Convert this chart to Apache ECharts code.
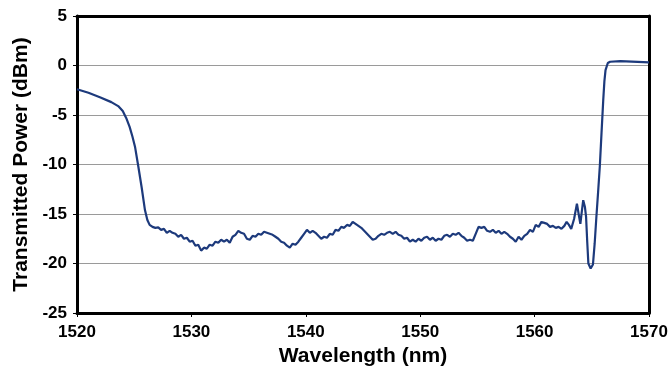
<!DOCTYPE html>
<html>
<head>
<meta charset="utf-8">
<script src="https://cdn.jsdelivr.net/npm/echarts@6/dist/echarts.min.js"></script>
<style>
  html, body { margin: 0; padding: 0; background: #fff; }
  #chart { width: 670px; height: 366px; }
</style>
</head>
<body>
<div id="chart"></div>
<script>
// wavelength (nm)
var wavelength = [
  1520, 1521, 1522, 1523, 1523.6, 1524.0, 1524.3, 1524.6, 1524.85, 1525.07,
  1525.36, 1525.65, 1525.94, 1526.15, 1526.35, 1526.6, 1526.85, 1527.1, 1527.35, 1527.6,
  1527.85, 1528.1, 1528.35, 1528.6, 1528.85, 1529.1, 1529.35, 1529.6, 1529.85, 1530.1,
  1530.35, 1530.6, 1530.85, 1531.1, 1531.35, 1531.6, 1531.85, 1532.1, 1532.35, 1532.6,
  1532.85, 1533.1, 1533.35, 1533.6, 1533.85, 1534.1, 1534.35, 1534.6, 1534.85, 1535.1,
  1535.35, 1535.6, 1535.85, 1536.1, 1536.35, 1536.6, 1536.85, 1537.1, 1537.35, 1537.6,
  1537.85, 1538.1, 1538.35, 1538.6, 1538.85, 1539.1, 1539.35, 1539.6, 1539.85, 1540.1,
  1540.35, 1540.6, 1540.85, 1541.1, 1541.35, 1541.6, 1541.85, 1542.1, 1542.35, 1542.6,
  1542.85, 1543.1, 1543.35, 1543.6, 1543.85, 1544.1, 1544.35, 1544.6, 1544.85, 1545.1,
  1545.35, 1545.6, 1545.85, 1546.1, 1546.35, 1546.6, 1546.85, 1547.1, 1547.35, 1547.6,
  1547.85, 1548.1, 1548.35, 1548.6, 1548.85, 1549.1, 1549.35, 1549.6, 1549.85, 1550.1,
  1550.35, 1550.6, 1550.85, 1551.1, 1551.35, 1551.6, 1551.85, 1552.1, 1552.35, 1552.6,
  1552.85, 1553.1, 1553.35, 1553.6, 1553.85, 1554.1, 1554.35, 1554.6, 1554.85, 1555.1,
  1555.35, 1555.6, 1555.85, 1556.1, 1556.35, 1556.6, 1556.85, 1557.1, 1557.35, 1557.6,
  1557.85, 1558.1, 1558.35, 1558.6, 1558.85, 1559.1, 1559.35, 1559.6, 1559.85, 1560.1,
  1560.35, 1560.6, 1560.85, 1561.1, 1561.35, 1561.6, 1561.85, 1562.1, 1562.35, 1562.6,
  1562.8, 1563.0, 1563.2, 1563.45, 1563.7, 1563.85, 1564.0, 1564.12, 1564.25, 1564.4,
  1564.5, 1564.6, 1564.7, 1564.9, 1565.1, 1565.25, 1565.4, 1565.55, 1565.7, 1565.85,
  1566.0, 1566.1, 1566.2, 1566.4, 1566.6, 1567.5, 1570
];
// transmitted power (dBm)
var power = [
  -2.4, -2.75, -3.2, -3.7, -4.1, -4.6, -5.3, -6.2, -7.2, -8.2,
  -10.2, -12.3, -14.6, -15.6, -16.1, -16.3, -16.4, -16.35, -16.6, -16.5,
  -16.9, -16.7, -16.9, -17.0, -17.3, -17.1, -17.5, -17.4, -17.8, -17.7,
  -18.2, -18.1, -18.7, -18.4, -18.5, -18.1, -18.2, -17.8, -17.9, -17.6,
  -17.8, -17.6, -17.9, -17.3, -17.1, -16.7, -16.9, -17.0, -17.5, -17.6,
  -17.2, -17.3, -17.0, -17.1, -16.8, -16.9, -17.0, -17.1, -17.3, -17.5,
  -17.8, -17.9, -18.2, -18.4, -18.0, -18.1, -17.8, -17.4, -17.0, -16.6,
  -16.9, -16.7, -16.9, -17.2, -17.5, -17.3, -17.4, -17.0, -17.1, -16.6,
  -16.7, -16.3, -16.4, -16.1, -16.2, -15.8, -16.0, -16.2, -16.4, -16.7,
  -17.0, -17.3, -17.6, -17.5, -17.2, -17.0, -17.1, -16.9, -16.8, -17.0,
  -16.8, -17.1, -17.2, -17.5, -17.4, -17.8, -17.6, -17.8, -17.5, -17.7,
  -17.4, -17.3, -17.6, -17.4, -17.7, -17.5, -17.6, -17.2, -17.1, -17.3,
  -17.0, -17.1, -16.9, -17.2, -17.4, -17.7, -17.6, -17.7, -17.0, -16.3,
  -16.4, -16.3, -16.7, -16.8, -16.6, -16.9, -16.7, -17.0, -16.8, -17.0,
  -17.3, -17.5, -17.8, -17.3, -17.6, -17.2, -17.0, -16.6, -16.8, -16.1,
  -16.3, -15.8, -15.9, -16.0, -16.3, -16.2, -16.4, -16.3, -16.5, -16.2,
  -15.8, -16.1, -16.5, -15.5, -13.95, -15.0, -16.0, -14.8, -13.6, -14.3,
  -15.3, -17.8, -20.0, -20.5, -20.1, -18.0, -15.3, -12.8, -10.2, -6.8,
  -3.5, -1.6, -0.46, 0.25, 0.38, 0.45, 0.32
];

var xTicks = [1520, 1530, 1540, 1550, 1560, 1570];
var yTicks = [-25, -20, -15, -10, -5, 0, 5];

var points = [];
for (var i = 0; i < wavelength.length; i++) {
  points.push([wavelength[i], power[i]]);
}

var labelFont = { fontFamily: 'Liberation Sans', fontWeight: 'bold', fontSize: 17, color: '#000' };
var nameFont = { fontFamily: 'Liberation Sans', fontWeight: 'bold', fontSize: 21, color: '#000' };

var chart = echarts.init(document.getElementById('chart'));

var option = {
  backgroundColor: '#fff',
  animation: false,
  grid: {
    left: 77,
    right: 21,
    top: 16,
    bottom: 53,
    show: false,
    outerBoundsMode: 'none',
    containLabel: false
  },
  xAxis: [{
    type: 'value',
    min: xTicks[0],
    max: xTicks[xTicks.length - 1],
    interval: 10,
    name: 'Wavelength (nm)',
    nameLocation: 'middle',
    nameGap: 28,
    nameTextStyle: nameFont,
    axisLine: { show: true, onZero: false, lineStyle: { color: '#000', width: 3 } },
    axisTick: { show: true, length: 4, lineStyle: { color: '#000', width: 1 } },
    axisLabel: Object.assign({ margin: 11, formatter: function (v) { return String(v); } }, labelFont),
    splitLine: { show: false }
  }, {
    // top frame edge
    type: 'value',
    position: 'top',
    min: xTicks[0],
    max: xTicks[xTicks.length - 1],
    axisLine: { show: true, onZero: false, lineStyle: { color: '#000', width: 3 } },
    axisTick: { show: false },
    axisLabel: { show: false },
    splitLine: { show: false }
  }],
  yAxis: [{
    type: 'value',
    min: yTicks[0],
    max: yTicks[yTicks.length - 1],
    interval: 5,
    name: 'Transmitted Power (dBm)',
    nameLocation: 'middle',
    nameGap: 43,
    nameTextStyle: nameFont,
    axisLine: { show: true, onZero: false, lineStyle: { color: '#000', width: 3 } },
    axisTick: { show: true, length: 4, lineStyle: { color: '#000', width: 1 } },
    axisLabel: Object.assign({ margin: 10 }, labelFont),
    splitLine: { show: true, lineStyle: { color: '#9a9a9a', width: 1 } }
  }, {
    // right frame edge
    type: 'value',
    position: 'right',
    min: yTicks[0],
    max: yTicks[yTicks.length - 1],
    axisLine: { show: true, onZero: false, lineStyle: { color: '#000', width: 3 } },
    axisTick: { show: false },
    axisLabel: { show: false },
    splitLine: { show: false }
  }],
  series: [
    {
      type: 'line',
      data: points,
      showSymbol: false,
      smooth: false,
      lineStyle: { color: '#1d3a7c', width: 2.2 }
    }
  ]
};

chart.setOption(option);
</script>
</body>
</html>
